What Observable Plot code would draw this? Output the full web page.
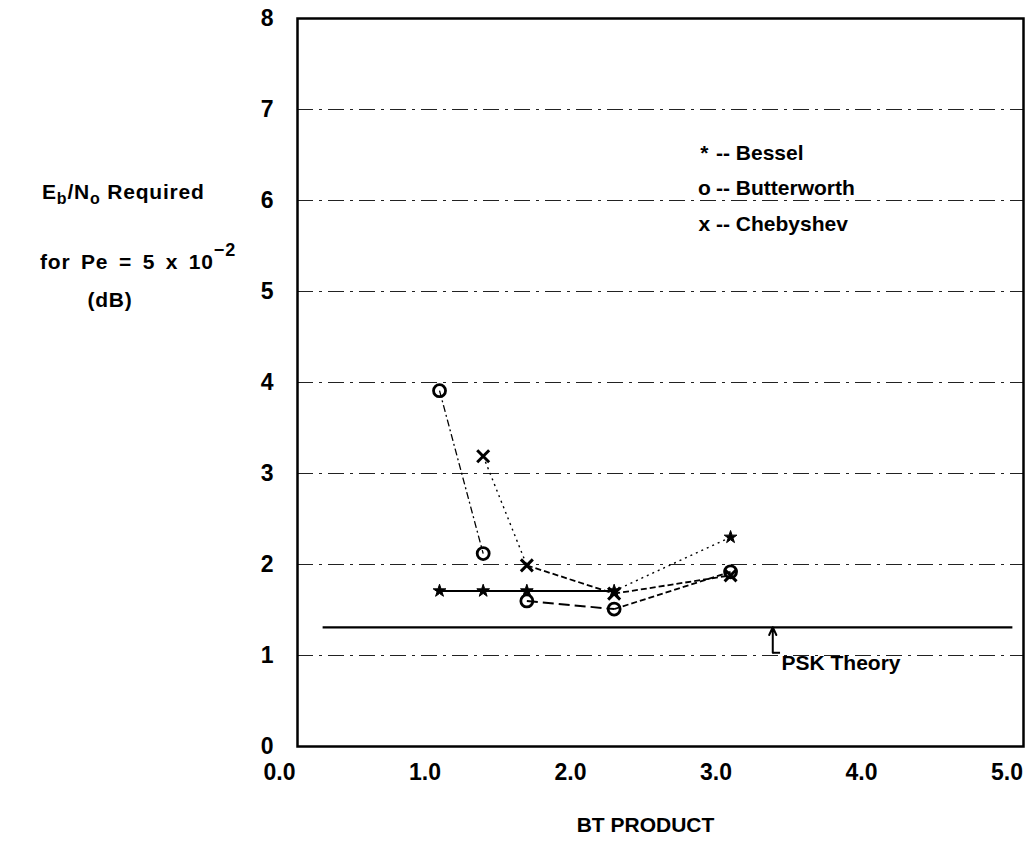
<!DOCTYPE html>
<html>
<head>
<meta charset="utf-8">
<script src="https://cdn.jsdelivr.net/npm/d3@7"></script>
<script src="https://cdn.jsdelivr.net/npm/@observablehq/plot@0.6"></script>
<style>
  html, body { margin: 0; padding: 0; background: white; }
  #chart svg { display: block; }
</style>
</head>
<body>
<div id="chart"></div>
<script>
// ---- data ----
const btProduct = [1.1, 1.4, 1.7, 2.3, 3.1];
const bessel = [1.71, 1.71, 1.71, 1.71, 2.30];
const butterworth = [3.91, 2.12, 1.60, 1.51, 1.92];
const chebyBT = [1.4, 1.7, 2.3, 3.1];
const chebyshev = [3.19, 1.99, 1.68, 1.88];
// line style of each segment between consecutive points
const besselSegStyle = ["solid", "solid", "solid", "dotted"];
const butterSegStyle = ["dashdot", "none", "longdash", "dashed"];
const chebySegStyle = ["dotted", "dashed", "dashed"];
const pskTheory = 1.31;
const pskRange = [0.3, 5.04];
const xTicks = [0, 1, 2, 3, 4, 5];
const yTicks = [0, 1, 2, 3, 4, 5, 6, 7, 8];
const gridY = [1, 2, 3, 4, 5, 6, 7];
const legendNames = ["Bessel", "Butterworth", "Chebyshev"];
const legendSymbols = ["*", "o", "x"];
const legendY = [6.52, 6.13, 5.74];

// ---- build tables ----
function points(xs, ys, series) { return xs.map((x, i) => ({x, y: ys[i], series})); }
function segments(xs, ys, styles) {
  return styles.map((s, i) => ({x1: xs[i], y1: ys[i], x2: xs[i + 1], y2: ys[i + 1], style: s}));
}
const segs = [
  ...segments(btProduct, bessel, besselSegStyle),
  ...segments(btProduct, butterworth, butterSegStyle),
  ...segments(chebyBT, chebyshev, chebySegStyle)
];
const dashes = {solid: null, dotted: "2,4", dashed: "6,3", longdash: "11,5", dashdot: "7,3,2,3"};
const widths = {solid: 2, dotted: 1.4, dashed: 1.8, longdash: 2, dashdot: 1.3};
const segMarks = Object.keys(dashes).map(st =>
  Plot.link(segs.filter(d => d.style === st), {
    x1: "x1", y1: "y1", x2: "x2", y2: "y2",
    stroke: "black", strokeWidth: widths[st], strokeDasharray: dashes[st]
  })
);
const legend = legendNames.map((n, i) => ({name: n, sym: legendSymbols[i], y: legendY[i]}));

const font = "'Liberation Sans', Arial, sans-serif";

const plot = Plot.plot({
  width: 1031,
  height: 849,
  marginLeft: 297,
  marginRight: 8,
  marginTop: 18,
  marginBottom: 103,
  style: {fontFamily: font, fontWeight: "bold", fontSize: "22px", background: "white", color: "black", overflow: "visible"},
  x: {domain: [0.124, 5.113]},
  y: {domain: [0, 8]},
  marks: [
    Plot.ruleY(gridY, {stroke: "#222", strokeWidth: 1, strokeDasharray: "16,6,3,6"}),
    Plot.frame({stroke: "black", strokeWidth: 2.5}),
    Plot.axisX(xTicks, {tickSize: 0, tickPadding: 17, tickFormat: d => d.toFixed(1), label: null, fontSize: 23, fontWeight: "bold"}),
    Plot.axisY(yTicks, {tickSize: 0, tickPadding: 24, tickFormat: d => String(d), label: null, fontSize: 23, fontWeight: "bold"}),
    Plot.text(["BT PRODUCT"], {frameAnchor: "bottom", dx: -15, dy: 85, fontSize: 21, fontWeight: "bold"}),
    // PSK theory reference
    Plot.ruleY([pskTheory], {x1: pskRange[0], x2: pskRange[1], stroke: "black", strokeWidth: 2.2}),
    Plot.arrow([{x: 3.39, y: 1.03, y2: pskTheory}], {x1: "x", y1: "y", x2: "x", y2: "y2", stroke: "black", strokeWidth: 2, headLength: 9, headAngle: 50, bend: 0}),
    Plot.link([{x: 3.39, y: 1.03}], {x1: "x", y1: "y", x2: d => d.x + 0.05, y2: "y", stroke: "black", strokeWidth: 2}),
    Plot.text([{x: 3.45, y: 0.92, t: "PSK Theory"}], {x: "x", y: "y", text: "t", textAnchor: "start", fontSize: 21, fontWeight: "bold"}),
    // series lines
    ...segMarks,
    // markers
    Plot.dot(points(btProduct, bessel, "Bessel"), {x: "x", y: "y", symbol: "star", r: 4, fill: "black", stroke: "black", strokeWidth: 1}),
    Plot.dot(points(btProduct, butterworth, "Butterworth"), {x: "x", y: "y", symbol: "circle", r: 6, fill: "none", stroke: "black", strokeWidth: 2.8}),
    Plot.dot(points(chebyBT, chebyshev, "Chebyshev"), {x: "x", y: "y", symbol: "times", r: 5.5, stroke: "black", strokeWidth: 3}),
    // legend
    Plot.text(legend, {x: 2.92, y: "y", text: "sym", fontSize: 21, fontWeight: "bold", textAnchor: "middle"}),
    Plot.text(legend, {x: 3.0, y: "y", text: d => "-- " + d.name, fontSize: 21, fontWeight: "bold", textAnchor: "start"})
  ]
});

// y-axis title (left margin), built as real text with sub/superscripts
const svg = d3.select(plot);
const g = svg.append("g")
  .attr("font-family", font).attr("font-weight", "bold").attr("font-size", 21)
  .attr("fill", "black").attr("text-anchor", "start").attr("letter-spacing", 0.8);
const t1 = g.append("text").attr("x", 42).attr("y", 199);
t1.append("tspan").text("E");
t1.append("tspan").attr("font-size", 16).attr("dy", 5).text("b");
t1.append("tspan").attr("dy", -5).text("/N");
t1.append("tspan").attr("font-size", 16).attr("dy", 5).text("o");
t1.append("tspan").attr("dy", -5).text(" Required");
const t2 = g.append("text").attr("x", 40).attr("y", 269).attr("word-spacing", 4);
t2.append("tspan").text("for Pe = 5 x 10");
t2.append("tspan").attr("font-size", 18).attr("dy", -13).text("−2");
g.append("text").attr("x", 110).attr("y", 307).attr("text-anchor", "middle").text("(dB)");

document.getElementById("chart").appendChild(plot);
</script>
</body>
</html>
